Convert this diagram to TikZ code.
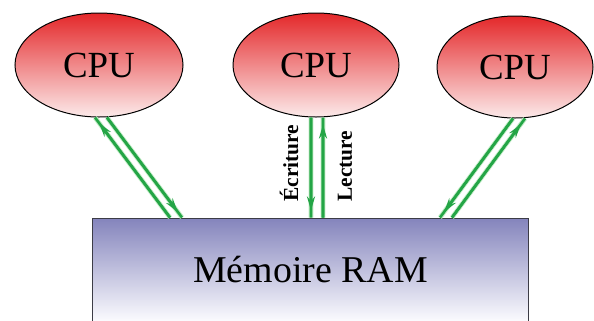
\documentclass[tikz,border=0pt]{standalone}
\usepackage{fontspec}
\setmainfont{Liberation Serif}
\usetikzlibrary{shapes.geometric,arrows.meta,calc}
\definecolor{grn}{RGB}{36,165,70}
\definecolor{halo}{RGB}{190,235,195}
\definecolor{cpuTop}{RGB}{228,40,42}
\definecolor{cpuMid}{RGB}{238,128,128}
\definecolor{cpuBot}{RGB}{252,234,234}
\definecolor{ramTop}{RGB}{132,132,188}
\definecolor{ramBot}{RGB}{252,252,255}
\tikzset{
  cpu/.style={ellipse, draw=black, line width=1bp, top color=cpuTop, middle color=cpuMid, bottom color=cpuBot,
    font=\fontsize{37}{40}\selectfont, inner sep=0pt},
  ram/.style={rectangle, draw={rgb,255:red,60;green,60;blue,70}, line width=1bp, top color=ramTop, bottom color=ramBot,
    font=\fontsize{38}{40}\selectfont, minimum width=435bp, minimum height=104bp, inner sep=0pt},
  lbl/.style={font=\bfseries\fontsize{21.5}{22}\selectfont, rotate=90, inner sep=0pt},
  wire/.style={draw=grn, line width=2.6bp, preaction={draw=halo, line width=4.6bp}},
  tipend/.style={draw=grn, line width=2.6bp, -{Stealth[length=14bp,width=8bp]}, shorten >=7bp},
}
\begin{document}
\begin{tikzpicture}[x=1bp,y=-1bp]
\useasboundingbox (0,0) rectangle (594,320);
\fill[white] (0,0) rectangle (594,320);
\node[cpu, minimum width=168bp, minimum height=104bp] (c1) at (99,65) {CPU};
\node[cpu, minimum width=166bp, minimum height=104bp] (c2) at (316,65) {CPU};
\node[cpu, minimum width=156bp, minimum height=102bp] (c3) at (515,67) {CPU};
\node[ram] (r) at (310.5,270) {Mémoire RAM};
% left pair
\coordinate (a1) at ($(c1.south)+(-4,0)$);
\coordinate (b1) at ($(r.north)+(-140.5,0)$);
\coordinate (a2) at ($(c1.south)+(8,0)$);
\coordinate (b2) at ($(r.north)+(-128.5,0)$);
\draw[wire] (a1) -- (b1);
\draw[tipend] (b1) -- (a1);
\draw[wire] (a2) -- (b2);
\draw[tipend] (a2) -- (b2);
% middle pair
\coordinate (a3) at ($(c2.south)+(-5,0)$);
\coordinate (b3) at ($(r.north)+(0.5,0)$);
\coordinate (a4) at ($(c2.south)+(7,0)$);
\coordinate (b4) at ($(r.north)+(12.5,0)$);
\draw[wire] (a3) -- (b3);
\draw[tipend] (a3) -- (b3);
\draw[wire] (a4) -- (b4);
\draw[tipend] (b4) -- (a4);
% right pair
\coordinate (a5) at ($(c3.south)+(-2,0)$);
\coordinate (b5) at ($(r.north)+(129.5,0)$);
\coordinate (a6) at ($(c3.south)+(10,0)$);
\coordinate (b6) at ($(r.north)+(141.5,0)$);
\draw[wire] (a5) -- (b5);
\draw[tipend] (a5) -- (b5);
\draw[wire] (a6) -- (b6);
\draw[tipend] (b6) -- (a6);
% labels
\node[lbl] (ecr) at (289,163) {Écriture};
\node[lbl] (lec) at (345,166) {Lecture};
\end{tikzpicture}
\end{document}
